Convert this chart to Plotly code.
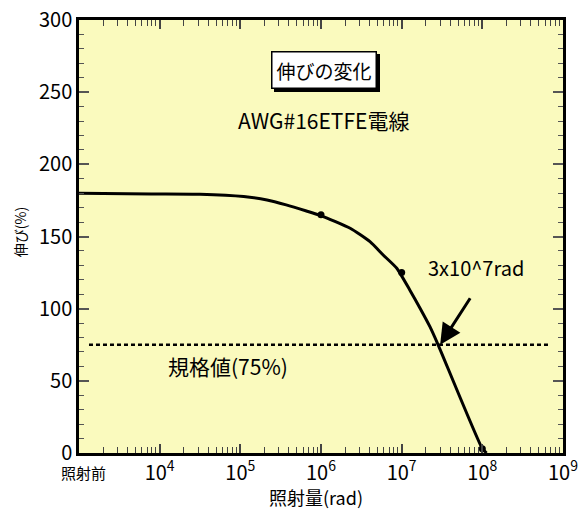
import plotly.graph_objects as go

# ---- data ----
dose_points = [1e3, 1e6, 1e7, 1e8]            # 照射前 plotted at 1e3
elong_points = [180, 165, 125, 3]

curve_dose = [1e3, 7.9e3, 3.16e4, 1.1e5, 2.14e5, 3.7e5, 6.6e5, 1e6, 2.3e6, 4.05e6,
              5.9e6, 8.7e6, 1.26e7, 1.69e7, 2.24e7, 2.84e7, 1e8, 1.13e8]
curve_elong = [180, 179.5, 179.3, 177.7, 175.3, 171.9, 167.7, 164.5, 155.7, 146.4,
               137.2, 128, 113, 100.3, 87.5, 74.8, 3, 0]

spec_value = 75
spec_dose = [1.33e3, 6.9e8]

x_tick_exps = [4, 5, 6, 7, 8, 9]
x_tick_vals = [10 ** e for e in x_tick_exps]
x_tick_text = ["10<sup>%d</sup>" % e for e in x_tick_exps]

FONT = "Noto Sans CJK JP"
BG = "rgb(250,250,190)"

fig = go.Figure()

fig.add_trace(go.Scatter(x=spec_dose, y=[spec_value, spec_value], mode="lines",
                         line=dict(color="black", width=2.5, dash="4px,3px"),
                         hoverinfo="skip", showlegend=False))
fig.add_trace(go.Scatter(x=curve_dose, y=curve_elong, mode="lines",
                         line=dict(color="black", width=3, shape="spline", smoothing=0.5),
                         showlegend=False))
fig.add_trace(go.Scatter(x=dose_points, y=elong_points, mode="markers",
                         marker=dict(color="black", size=7), showlegend=False,
                         cliponaxis=False))

minor_x = [m * 10 ** e for e in range(3, 9) for m in range(2, 10)]

fig.update_xaxes(type="log", range=[3, 9], tickmode="array", tickvals=x_tick_vals,
                 ticktext=x_tick_text, ticks="inside", ticklen=9, tickwidth=1.5,
                 tickcolor="#444", showgrid=False, zeroline=False, automargin=False,
                 showline=True, linewidth=2.5, linecolor="black", mirror="ticks",
                 tickfont=dict(family=FONT, size=20, color="black"),
                 minor=dict(tickmode="array", tickvals=minor_x, ticks="inside",
                            ticklen=6, tickwidth=1.2, tickcolor="#444", showgrid=False))
fig.update_yaxes(range=[0, 300], tickmode="linear", tick0=0, dtick=50,
                 ticks="inside", ticklen=10, tickwidth=1.5, tickcolor="#555",
                 showgrid=False, zeroline=False, showline=True, linewidth=2.5,
                 linecolor="black", mirror="ticks", automargin=False,
                 tickfont=dict(family=FONT, size=20, color="black"),
                 minor=dict(dtick=10, ticks="inside", ticklen=5, tickwidth=1.2,
                            tickcolor="#555", showgrid=False))

annotations = [
    dict(text="照射前", x=3, xref="x", y=0, yref="paper", yanchor="top", xanchor="center",
         xshift=4, yshift=-7, showarrow=False, font=dict(family=FONT, size=15, color="black")),
    dict(text="照射量(rad)", x=0.49, xref="paper", y=0, yref="paper", yanchor="top",
         xanchor="center", yshift=-29, showarrow=False,
         font=dict(family=FONT, size=18, color="black")),
    dict(text="伸び(%)", x=0, xref="paper", y=0.51, yref="paper", xanchor="center",
         yanchor="middle", xshift=-59, textangle=-90, showarrow=False,
         font=dict(family=FONT, size=14, color="black")),
    # title box with drop shadow
    dict(text="伸びの変化", x=0.506, xref="paper", y=0.884, yref="paper", showarrow=False,
         xanchor="center", yanchor="middle", font=dict(family=FONT, size=19, color="black"),
         bgcolor="black", bordercolor="black", borderwidth=1.5, borderpad=4,
         xshift=3, yshift=-3),
    dict(text="伸びの変化", x=0.506, xref="paper", y=0.884, yref="paper", showarrow=False,
         xanchor="center", yanchor="middle", font=dict(family=FONT, size=19, color="black"),
         bgcolor="white", bordercolor="black", borderwidth=1.5, borderpad=4),
    dict(text="AWG#16ETFE電線", x=0.506, xref="paper", y=0.77, yref="paper", showarrow=False,
         xanchor="center", yanchor="middle", font=dict(family=FONT, size=21, color="black")),
    dict(text="規格値(75%)", x=0.308, xref="paper", y=spec_value, yref="y", showarrow=False,
         xanchor="center", yanchor="top", yshift=-4,
         font=dict(family=FONT, size=21, color="black")),
    dict(text="3x10^7rad", x=7.3, xref="x", y=125, yref="y", showarrow=False,
         xanchor="left", yanchor="middle", yshift=5,
         font=dict(family=FONT, size=20, color="black")),
    dict(text="", x=7.477, xref="x", y=spec_value, yref="y", ax=31, ay=-48,
         showarrow=True, arrowhead=2, arrowsize=1.4, arrowwidth=3, arrowcolor="black",
         standoff=0),
]

fig.update_layout(width=580, height=510, margin=dict(l=79, r=17, t=20, b=57),
                  paper_bgcolor="white", plot_bgcolor=BG, annotations=annotations,
                  font=dict(family=FONT, color="black"))

# remove the default 8px page margin so the figure sits at the window's corner
fig.write_html("out.html", config={"displayModeBar": False},
               post_script="document.body.style.margin='0';document.body.style.overflow='hidden';")
